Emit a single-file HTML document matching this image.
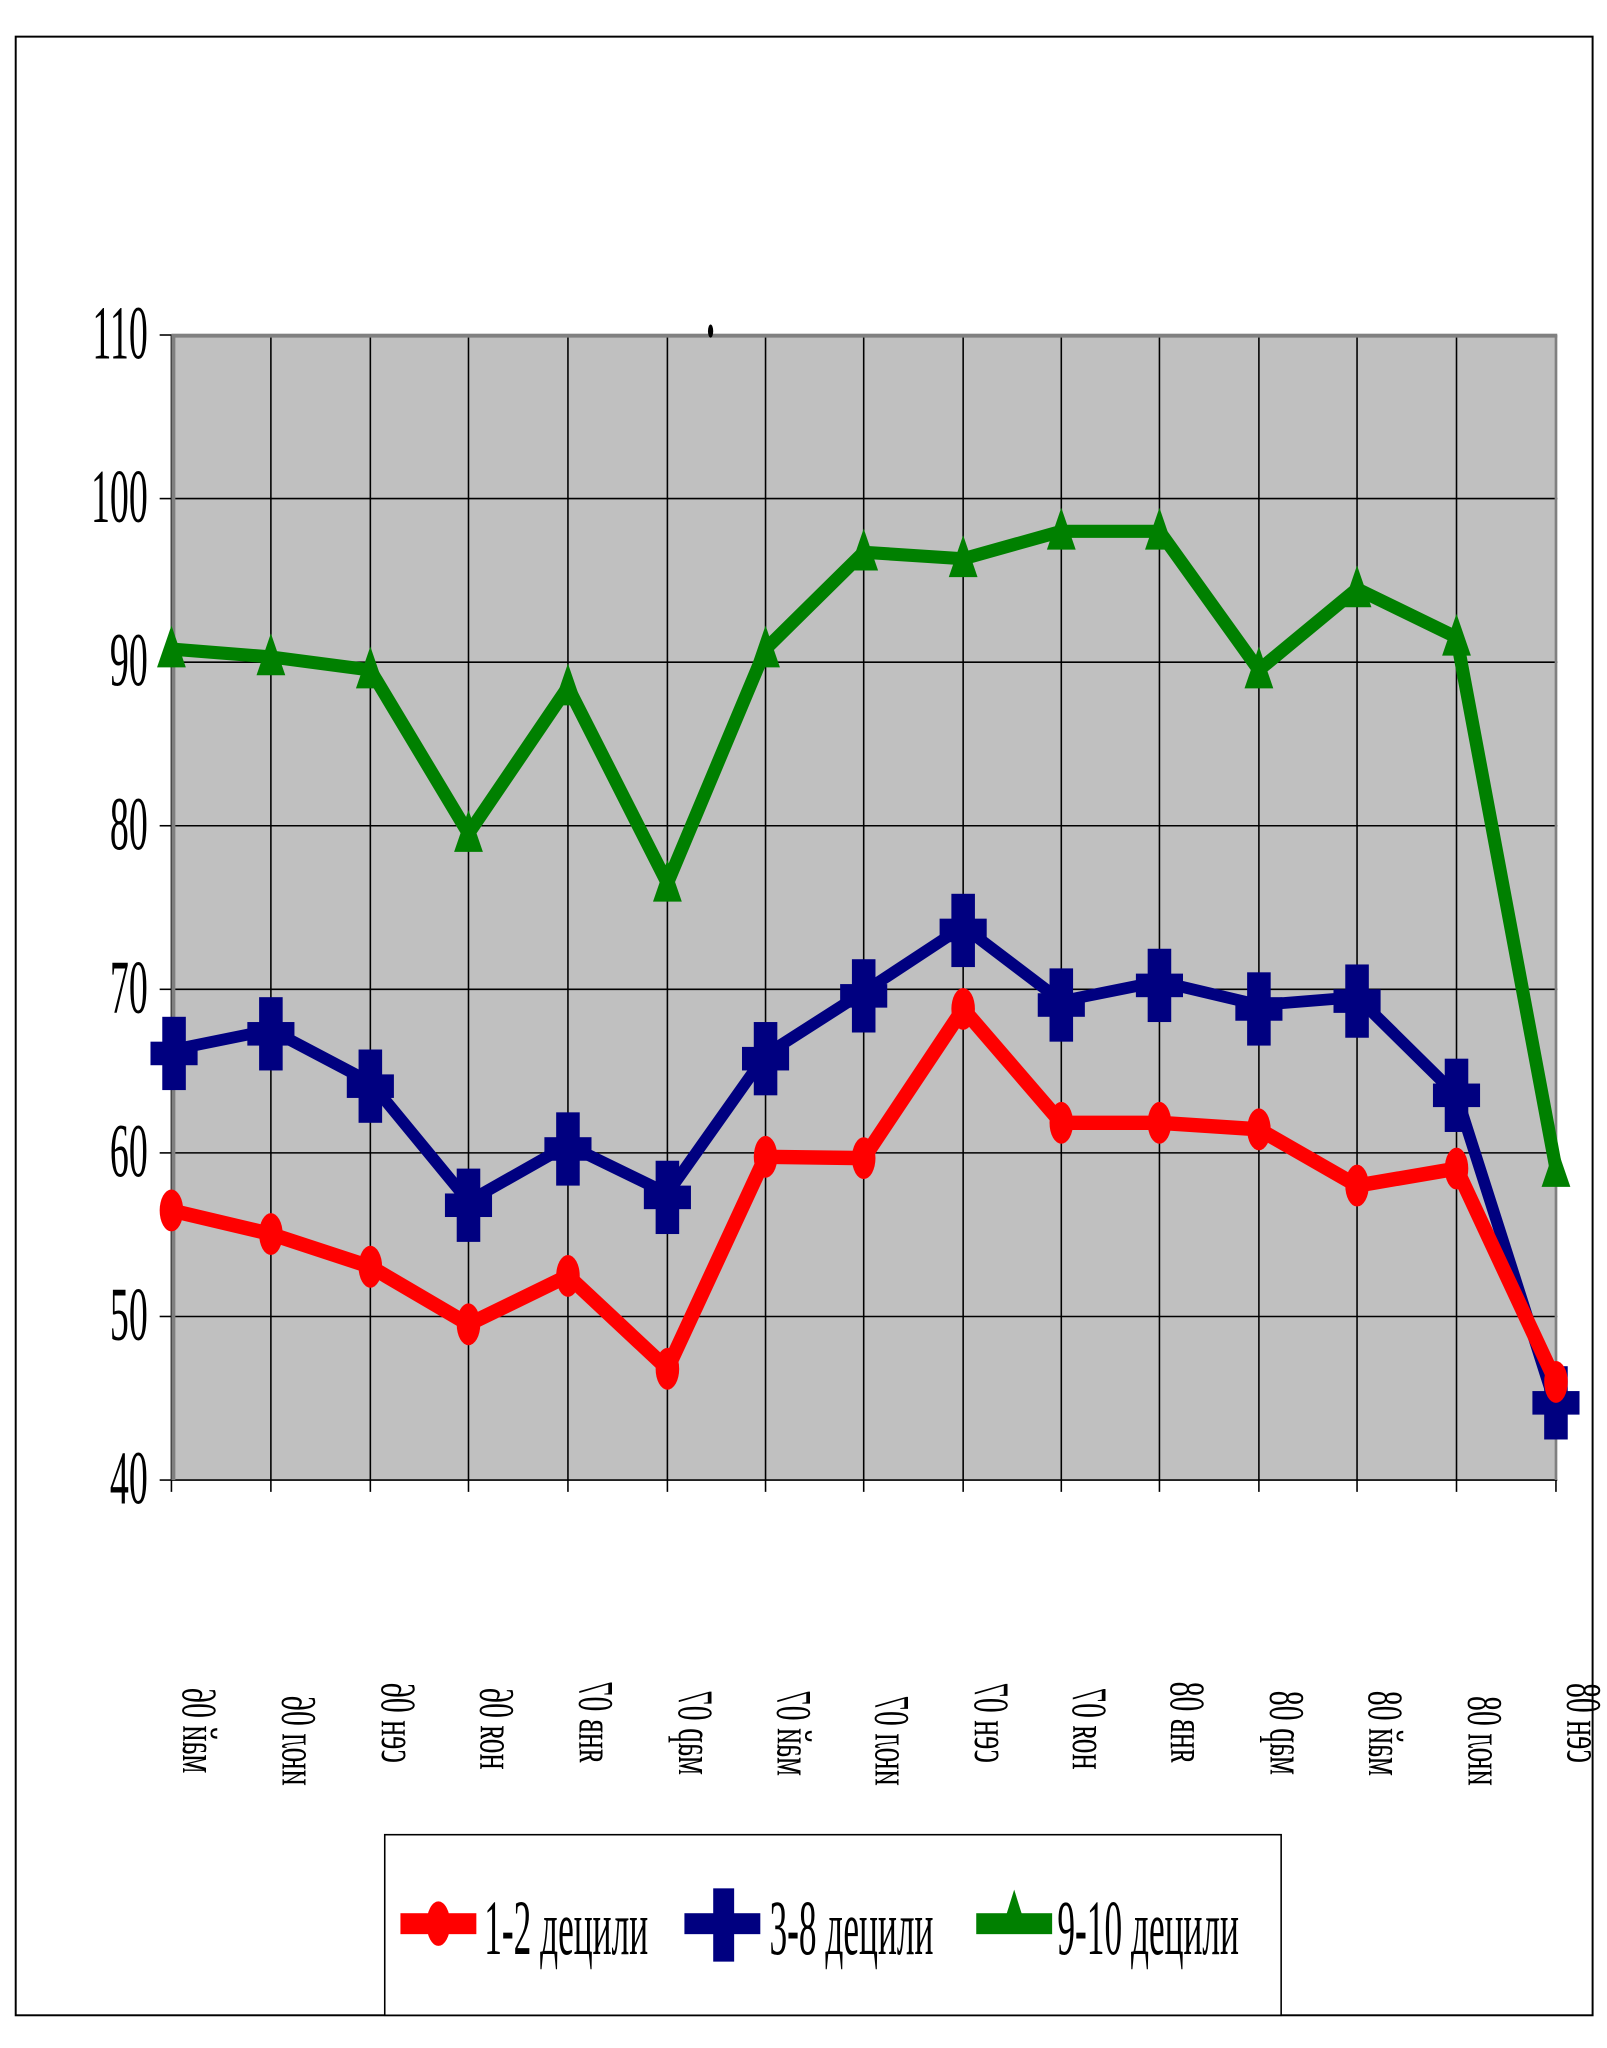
<!DOCTYPE html>
<html><head><meta charset="utf-8"><style>html,body{margin:0;padding:0;background:#fff}svg{display:block}</style></head>
<body>
<svg width="1607" height="2048" viewBox="0 0 1228 1565" xmlns="http://www.w3.org/2000/svg" font-family="Liberation Serif, serif">
<defs><g id="c"><rect x="-9" y="-28" width="18" height="56"/><rect x="-18" y="-9" width="36" height="18"/></g></defs>
<rect x="12" y="28" width="1205" height="1512" fill="#fff" stroke="#000" stroke-width="1.5"/>
<rect x="131" y="256" width="1059" height="875" fill="#c0c0c0"/>
<g stroke="#000" stroke-width="1.2">
<line x1="131" y1="381" x2="1190" y2="381"/><line x1="131" y1="506" x2="1190" y2="506"/><line x1="131" y1="631" x2="1190" y2="631"/><line x1="131" y1="756" x2="1190" y2="756"/><line x1="131" y1="881" x2="1190" y2="881"/><line x1="131" y1="1006" x2="1190" y2="1006"/>
<line x1="207" y1="256" x2="207" y2="1140"/><line x1="283" y1="256" x2="283" y2="1140"/><line x1="358" y1="256" x2="358" y2="1140"/><line x1="434" y1="256" x2="434" y2="1140"/><line x1="510" y1="256" x2="510" y2="1140"/><line x1="585" y1="256" x2="585" y2="1140"/><line x1="660" y1="256" x2="660" y2="1140"/><line x1="736" y1="256" x2="736" y2="1140"/><line x1="811" y1="256" x2="811" y2="1140"/><line x1="886" y1="256" x2="886" y2="1140"/><line x1="962" y1="256" x2="962" y2="1140"/><line x1="1037" y1="256" x2="1037" y2="1140"/><line x1="1113" y1="256" x2="1113" y2="1140"/><line x1="1189" y1="256" x2="1189" y2="1140"/>
<line x1="131" y1="1131" x2="1190" y2="1131"/><line x1="131" y1="1140" x2="131" y2="256"/>
<line x1="122" y1="256" x2="131" y2="256"/><line x1="122" y1="381" x2="131" y2="381"/><line x1="122" y1="506" x2="131" y2="506"/><line x1="122" y1="631" x2="131" y2="631"/><line x1="122" y1="756" x2="131" y2="756"/><line x1="122" y1="881" x2="131" y2="881"/><line x1="122" y1="1006" x2="131" y2="1006"/><line x1="122" y1="1131" x2="131" y2="1131"/>
</g>
<rect x="131" y="255" width="1059" height="3" fill="#808080"/><rect x="131" y="256" width="3" height="875" fill="#808080"/><rect x="1188" y="256" width="2" height="875" fill="#808080"/>
<g font-size="58" text-anchor="end">
<text transform="translate(113 274) scale(0.5 1)">110</text>
<text transform="translate(113 399) scale(0.5 1)">100</text>
<text transform="translate(113 524) scale(0.5 1)">90</text>
<text transform="translate(113 649) scale(0.5 1)">80</text>
<text transform="translate(113 774) scale(0.5 1)">70</text>
<text transform="translate(113 899) scale(0.5 1)">60</text>
<text transform="translate(113 1024) scale(0.5 1)">50</text>
<text transform="translate(113 1149) scale(0.5 1)">40</text>
</g>
<ellipse cx="543" cy="253" rx="2" ry="5" fill="#000"/>
<polyline fill="none" stroke="#008000" stroke-width="10" stroke-linejoin="round" points="131,496 207,502 283,512 358,637 434,525 510,675 585,496 660,422 736,427 811,406 886,406 962,512 1037,450 1113,487 1189,893"/>
<g fill="#008000">
<path d="M131,478 l11,32 h-22z"/><path d="M207,484 l11,32 h-22z"/><path d="M283,494 l11,32 h-22z"/><path d="M358,619 l11,32 h-22z"/><path d="M434,507 l11,32 h-22z"/><path d="M510,657 l11,32 h-22z"/><path d="M585,478 l11,32 h-22z"/><path d="M660,404 l11,32 h-22z"/><path d="M736,409 l11,32 h-22z"/><path d="M811,388 l11,32 h-22z"/><path d="M886,388 l11,32 h-22z"/><path d="M962,494 l11,32 h-22z"/><path d="M1037,432 l11,32 h-22z"/><path d="M1113,469 l11,32 h-22z"/><path d="M1189,875 l11,32 h-22z"/>
</g>
<polyline fill="none" stroke="#000080" stroke-width="9" stroke-linejoin="round" points="133,802 207,787 283,827 358,918 434,875 510,912 585,806 660,758 736,708 811,765 886,750 962,768 1037,762 1113,837 1189,1075"/>
<g fill="#000080">
<use href="#c" x="133" y="805"/><use href="#c" x="207" y="790"/><use href="#c" x="283" y="830"/><use href="#c" x="358" y="921"/><use href="#c" x="434" y="878"/><use href="#c" x="510" y="915"/><use href="#c" x="585" y="809"/><use href="#c" x="660" y="761"/><use href="#c" x="736" y="711"/><use href="#c" x="811" y="768"/><use href="#c" x="886" y="753"/><use href="#c" x="962" y="771"/><use href="#c" x="1037" y="765"/><use href="#c" x="1113" y="837"/><use href="#c" x="1189" y="1072"/>
</g>
<polyline fill="none" stroke="#ff0000" stroke-width="11" stroke-linejoin="round" points="131,925 207,943 283,968 358,1012 434,975 510,1046 585,884 660,885 736,771 811,858 886,858 962,863 1037,906 1113,893 1189,1056"/>
<g fill="#ff0000">
<ellipse cx="131" cy="925" rx="9" ry="16"/><ellipse cx="207" cy="943" rx="9" ry="16"/><ellipse cx="283" cy="968" rx="9" ry="16"/><ellipse cx="358" cy="1012" rx="9" ry="16"/><ellipse cx="434" cy="975" rx="9" ry="16"/><ellipse cx="510" cy="1046" rx="9" ry="16"/><ellipse cx="585" cy="884" rx="9" ry="16"/><ellipse cx="660" cy="885" rx="9" ry="16"/><ellipse cx="736" cy="771" rx="9" ry="16"/><ellipse cx="811" cy="858" rx="9" ry="16"/><ellipse cx="886" cy="858" rx="9" ry="16"/><ellipse cx="962" cy="863" rx="9" ry="16"/><ellipse cx="1037" cy="906" rx="9" ry="16"/><ellipse cx="1113" cy="893" rx="9" ry="16"/><ellipse cx="1189" cy="1056" rx="9" ry="16"/>
</g>
<g font-size="38" text-anchor="end">
<text transform="translate(140 1290) rotate(-90) scale(0.6 -1)">май 06</text>
<text transform="translate(216 1296) rotate(-90) scale(0.6 -1)">июл 06</text>
<text transform="translate(292 1286) rotate(-90) scale(0.6 -1)">сен 06</text>
<text transform="translate(367 1290) rotate(-90) scale(0.6 -1)">ноя 06</text>
<text transform="translate(443 1285) rotate(-90) scale(0.6 -1)">янв 07</text>
<text transform="translate(519 1292) rotate(-90) scale(0.6 -1)">мар 07</text>
<text transform="translate(594 1292) rotate(-90) scale(0.6 -1)">май 07</text>
<text transform="translate(669 1296) rotate(-90) scale(0.6 -1)">июл 07</text>
<text transform="translate(745 1286) rotate(-90) scale(0.6 -1)">сен 07</text>
<text transform="translate(820 1290) rotate(-90) scale(0.6 -1)">ноя 07</text>
<text transform="translate(895 1285) rotate(-90) scale(0.6 -1)">янв 08</text>
<text transform="translate(971 1292) rotate(-90) scale(0.6 -1)">мар 08</text>
<text transform="translate(1046 1292) rotate(-90) scale(0.6 -1)">май 08</text>
<text transform="translate(1122 1296) rotate(-90) scale(0.6 -1)">июл 08</text>
<text transform="translate(1198 1286) rotate(-90) scale(0.6 -1)">сен 08</text>
</g>
<rect x="294" y="1402" width="685" height="138" fill="#fff" stroke="#000" stroke-width="1.2"/>
<rect x="306" y="1462" width="58" height="16" fill="#ff0000"/><ellipse cx="335" cy="1470" rx="9" ry="17" fill="#ff0000"/>
<rect x="523" y="1462" width="58" height="16" fill="#000080"/><rect x="545" y="1443" width="16" height="56" fill="#000080"/>
<rect x="746" y="1462" width="58" height="16" fill="#008000"/><path d="M775,1444 l10,32 h-20z" fill="#008000"/>
<g font-size="60">
<text transform="translate(370 1493) scale(0.45 1)">1-2 децили</text>
<text transform="translate(588 1493) scale(0.45 1)">3-8 децили</text>
<text transform="translate(808 1493) scale(0.45 1)">9-10 децили</text>
</g>
</svg>
</body></html>
